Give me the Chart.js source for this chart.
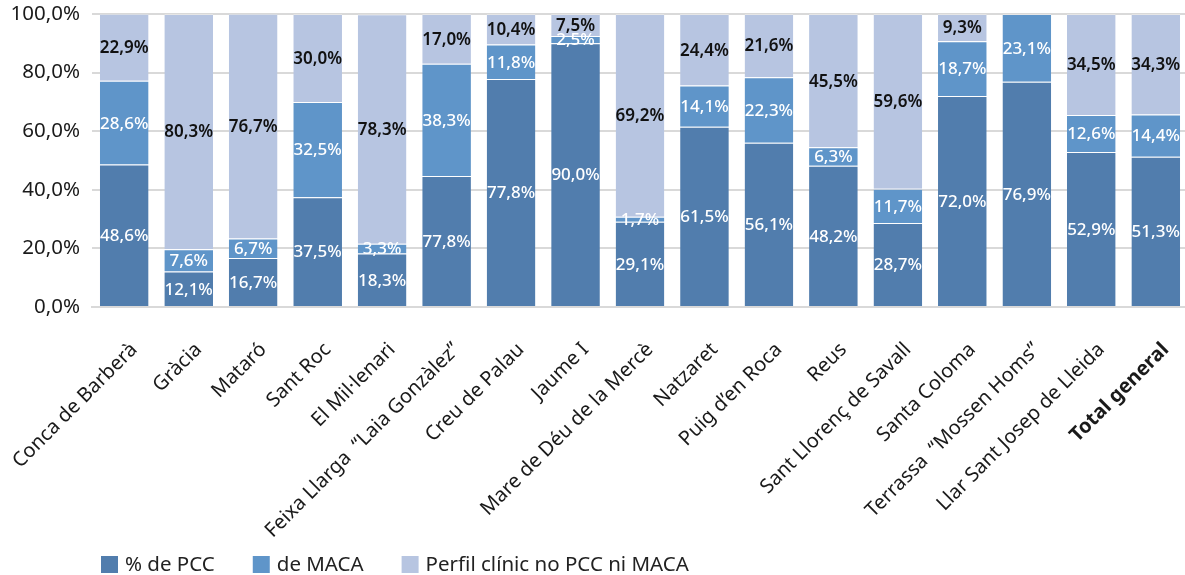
<!DOCTYPE html>
<html>
<head>
<meta charset="utf-8">
<script src="https://cdn.jsdelivr.net/npm/chart.js@4/dist/chart.umd.min.js"></script>
<style>
html,body{margin:0;padding:0;background:#fff;overflow:hidden;}
canvas{display:block;}
</style>
</head>
<body>
<canvas id="c" width="1188" height="575"></canvas>
<script>
const categories = [
  "Conca de Barberà", "Gràcia", "Mataró", "Sant Roc", "El Mil·lenari",
  "Feixa Llarga  “Laia Gonzàlez”", "Creu de Palau", "Jaume I",
  "Mare de Déu de la Mercè", "Natzaret", "Puig d’en Roca", "Reus",
  "Sant Llorenç de Savall", "Santa Coloma", "Terrassa  “Mossen Homs”",
  "Llar Sant Josep de Lleida", "Total general"
];
const seriesNames = ["% de PCC", "de MACA", "Perfil clínic no PCC ni MACA"];
// bar heights
const pccValues   = [48.6, 12.1, 16.7, 37.5, 18.3, 44.7, 77.8, 90.0, 29.1, 61.5, 56.1, 48.2, 28.7, 72.0, 76.9, 52.9, 51.3];
const macaValues  = [28.6,  7.6,  6.7, 32.5,  3.3, 38.3, 11.8,  2.5,  1.7, 14.1, 22.3,  6.3, 11.7, 18.7, 23.1, 12.6, 14.4];
const otherValues = [22.9, 80.3, 76.7, 30.0, 78.3, 17.0, 10.4,  7.5, 69.2, 24.4, 21.6, 45.5, 59.6,  9.3,  0.0, 34.5, 34.3];
// value labels as printed on the chart
const pccLabels   = [48.6, 12.1, 16.7, 37.5, 18.3, 77.8, 77.8, 90.0, 29.1, 61.5, 56.1, 48.2, 28.7, 72.0, 76.9, 52.9, 51.3];
const macaLabels  = macaValues;
const otherLabels = otherValues;
const yTicks = [0, 20, 40, 60, 80, 100];

const colors = ["#517dad", "#5f95c9", "#b7c5e1"];
const labelColors = ["#ffffff", "#ffffff", "#111111"];
const FONT = "'Noto Sans', 'DejaVu Sans', sans-serif";

function fmt(v){ return v.toFixed(1).replace('.', ',') + '%'; }

const valueLabelsPlugin = {
  id: 'valueLabels',
  afterDatasetsDraw(chart){
    const ctx = chart.ctx;
    const lbls = [pccLabels, macaLabels, otherLabels];
    ctx.save();
    ctx.textAlign = 'center';
    ctx.textBaseline = 'middle';
    chart.data.datasets.forEach((ds, i) => {
      const meta = chart.getDatasetMeta(i);
      meta.data.forEach((bar, j) => {
        const v = ds.data[j];
        if (!v) return;
        const y = (bar.y + bar.base) / 2;
        ctx.fillStyle = labelColors[i];
        ctx.font = (i === 2 ? '600 ' : '500 ') + '17px ' + FONT;
        ctx.fillText(fmt(lbls[i][j]), bar.x, y + 1);
      });
    });
    ctx.restore();
  }
};

const customLegendPlugin = {
  id: 'customLegend',
  afterDraw(chart){
    const ctx = chart.ctx;
    ctx.save();
    ctx.font = '20.5px ' + FONT;
    ctx.textBaseline = 'middle';
    ctx.textAlign = 'left';
    let x = 101;
    const y = 565;
    chart.data.datasets.forEach((ds) => {
      ctx.fillStyle = ds.backgroundColor;
      ctx.fillRect(x, y - 9, 17, 17);
      ctx.fillStyle = '#222';
      ctx.fillText(ds.label, x + 24, y);
      x += 24 + ctx.measureText(ds.label).width + 38;
    });
    ctx.restore();
  }
};

const datasets = [pccValues, macaValues, otherValues].map((vals, i) => ({
  label: seriesNames[i],
  data: vals,
  backgroundColor: colors[i],
  borderColor: 'rgba(255,255,255,0.35)',
  borderWidth: {top: 1, left: 0, right: 0, bottom: 0},
  borderSkipped: 'start',
  categoryPercentage: 1.0,
  barPercentage: 0.755
}));

new Chart(document.getElementById('c'), {
  type: 'bar',
  data: { labels: categories, datasets },
  options: {
    responsive: false,
    animation: false,
    layout: { padding: { top: 14, left: 0, right: 0, bottom: 0 } },
    plugins: {
      legend: { display: false },
      tooltip: { enabled: false }
    },
    scales: {
      x: {
        stacked: true,
        grid: { display: false, drawTicks: false },
        border: { display: true, color: '#d9d9d9', width: 2 },
        ticks: {
          autoSkip: false,
          maxRotation: 45,
          minRotation: 45,
          padding: 31,
          labelOffset: 10,
          color: '#1a1a1a',
          font: (c) => ({ family: FONT, size: 20, weight: c.index === categories.length - 1 ? 'bold' : 'normal' })
        },
        afterFit(scale){ scale.height = 268; scale.paddingLeft = 0; scale.paddingRight = 0; }
      },
      y: {
        stacked: true,
        min: 0,
        max: 100,
        afterBuildTicks(scale){ scale.ticks = yTicks.map(v => ({ value: v })); },
        grid: { color: '#d9d9d9', lineWidth: 2, drawTicks: false },
        border: { display: false },
        ticks: {
          padding: 12,
          color: '#1a1a1a',
          font: { family: FONT, size: 20.5 },
          callback: (v) => fmt(v)
        },
        afterFit(scale){ scale.width = 92; scale.paddingTop = 0; scale.paddingBottom = 0; }
      }
    }
  },
  plugins: [valueLabelsPlugin, customLegendPlugin]
});
</script>
</body>
</html>
